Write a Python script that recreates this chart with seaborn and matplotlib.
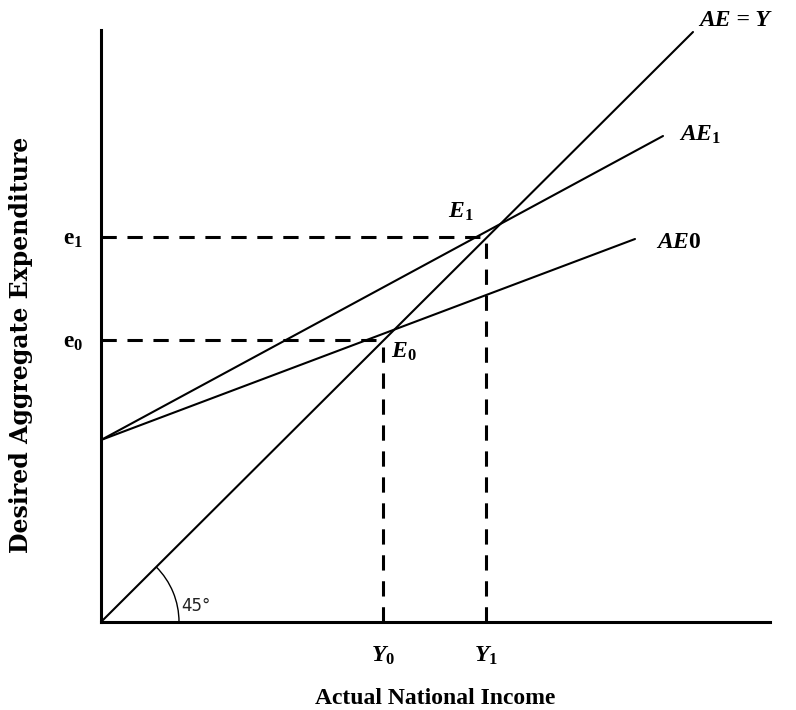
"""Keynesian cross: shift of desired aggregate expenditure."""

import matplotlib.pyplot as plt
import matplotlib.patches as mpatches
import pandas as pd
import seaborn as sns

# data (units, origin at the axes corner)
ae_y_x = [0, 592]
ae_y_y = [0, 590]
ae1_x = [0, 562]
ae1_y = [182, 486]
ae0_x = [0, 534]
ae0_y = [182, 383]
income_eq = [282, 385]        # Y0, Y1
spending_eq = [282, 385]      # e0, e1
x_tick_labels = ["Y$_0$", "Y$_1$"]
y_tick_labels = ["e$_0$", "e$_1$"]

sns.set_style("white")
plt.rcParams["font.family"] = ["Liberation Serif", "DejaVu Serif"]
plt.rcParams["mathtext.fontset"] = "custom"
plt.rcParams["mathtext.rm"] = "Liberation Serif:weight=bold"
plt.rcParams["mathtext.it"] = "Liberation Serif:style=italic:weight=bold"
plt.rcParams["mathtext.bf"] = "Liberation Serif:weight=bold"
for key in ("text.color", "axes.labelcolor", "xtick.color", "ytick.color"):
    plt.rcParams[key] = "black"

lines_df = pd.concat([
    pd.DataFrame({"x": ae_y_x, "y": ae_y_y, "curve": "AE=Y"}),
    pd.DataFrame({"x": ae1_x, "y": ae1_y, "curve": "AE1"}),
    pd.DataFrame({"x": ae0_x, "y": ae0_y, "curve": "AE0"}),
])

fig = plt.figure(figsize=(7.96, 7.10), dpi=100)
ax = fig.add_axes([101 / 796, 88 / 710, 669 / 796, 592 / 710])

sns.lineplot(data=lines_df, x="x", y="y", units="curve", estimator=None,
             color="black", linewidth=1.5, ax=ax, legend=False)

# dashed guides to the equilibria
for xe, ye in zip(income_eq, spending_eq):
    ax.plot([0, xe], [ye, ye], color="black", linestyle=(0, (5, 3.5)), linewidth=2.2)
    ax.plot([xe, xe], [0, ye], color="black", linestyle=(0, (5, 3.5)), linewidth=2.2)

# 45 degree arc
ax.add_patch(mpatches.Arc((0, 0), 156, 156, theta1=0, theta2=45, color="black", linewidth=1))
ax.text(80, 16, "45°", fontsize=12, family="DejaVu Sans", color="#222222", va="center")

label_kw = dict(fontsize=17, fontstyle="italic", fontweight="bold", va="center")
ax.text(598, 602, "AE = Y", clip_on=False, **label_kw)
ax.text(578, 487, "AE$_1$", **label_kw)
ax.text(555, 380, "AE$0$", **label_kw)
ax.text(347, 410, "E$_1$", **label_kw)
ax.text(290, 270, "E$_0$", **label_kw)

ax.set_xlim(0, 669)
ax.set_ylim(0, 592)
ax.set_xticks(income_eq, x_tick_labels, fontsize=17, fontstyle="italic", fontweight="bold")
ax.set_yticks(spending_eq, y_tick_labels, fontsize=17, fontweight="bold")
ax.tick_params(axis="both", length=0)
ax.tick_params(axis="x", pad=16)
ax.tick_params(axis="y", pad=13)
ax.set_xlabel("Actual National Income", fontsize=17, fontweight="bold")
ax.xaxis.set_label_coords(0.5, -66 / 592)
ax.set_ylabel("Desired Aggregate Expenditure", fontsize=17, fontweight="bold",
              family="DejaVu Serif")
ax.yaxis.set_label_coords(-68 / 669, 0.468)

sns.despine(ax=ax)
for side in ("left", "bottom"):
    ax.spines[side].set_linewidth(2.2)
    ax.spines[side].set_color("black")

fig.savefig("out.png", dpi=100)
